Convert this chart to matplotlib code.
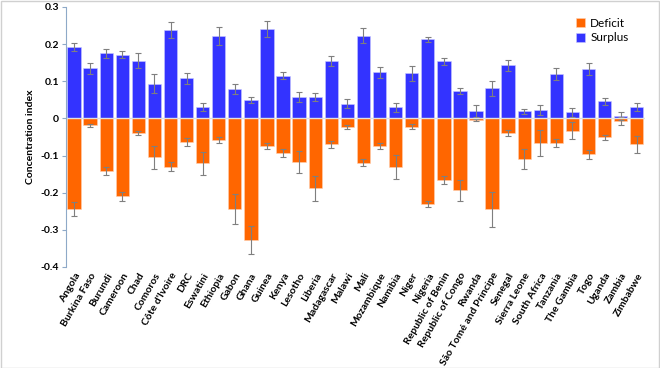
import matplotlib
matplotlib.use("Agg")
import matplotlib.pyplot as plt
import numpy as np
from matplotlib.patches import Rectangle

plt.rcParams['font.family'] = ['Lato', 'DejaVu Sans']

countries = ["Angola", "Burkina Faso", "Burundi", "Cameroon", "Chad", "Comoros",
             "Côte d'Ivoire", "DRC", "Eswatini", "Ethiopia", "Gabon", "Ghana",
             "Guinea", "Kenya", "Lesotho", "Liberia", "Madagascar", "Malawi",
             "Mali", "Mozambique", "Namibia", "Niger", "Nigeria", "Republic of Benin",
             "Republic of Congo", "Rwanda", "São Tomé and Principe", "Senegal",
             "Sierra Leone", "South Africa", "Tanzania", "The Gambia", "Togo",
             "Uganda", "Zambia", "Zimbabwe"]

surplus = [0.193, 0.135, 0.175, 0.172, 0.155, 0.094, 0.238, 0.108, 0.030, 0.222,
           0.079, 0.049, 0.241, 0.115, 0.058, 0.058, 0.154, 0.040, 0.223, 0.124,
           0.030, 0.121, 0.213, 0.154, 0.075, 0.019, 0.081, 0.143, 0.019, 0.022,
           0.120, 0.016, 0.134, 0.046, 0.006, 0.031]
surplus_err = [0.011, 0.015, 0.011, 0.010, 0.020, 0.026, 0.022, 0.015, 0.011, 0.025,
               0.013, 0.008, 0.021, 0.009, 0.014, 0.011, 0.014, 0.012, 0.020, 0.015,
               0.012, 0.019, 0.007, 0.009, 0.008, 0.016, 0.020, 0.014, 0.006, 0.014,
               0.016, 0.012, 0.016, 0.010, 0.010, 0.011]

deficit = [-0.243, -0.018, -0.141, -0.209, -0.040, -0.105, -0.130, -0.063, -0.121, -0.057,
           -0.243, -0.328, -0.073, -0.093, -0.118, -0.188, -0.070, -0.023, -0.119, -0.073,
           -0.131, -0.022, -0.231, -0.166, -0.194, -0.004, -0.245, -0.039, -0.108, -0.066,
           -0.066, -0.033, -0.097, -0.051, -0.007, -0.070]
deficit_err = [0.019, 0.004, 0.011, 0.012, 0.005, 0.030, 0.012, 0.010, 0.031, 0.008,
               0.040, 0.037, 0.008, 0.010, 0.029, 0.034, 0.010, 0.006, 0.010, 0.008,
               0.033, 0.006, 0.008, 0.011, 0.027, 0.003, 0.047, 0.007, 0.027, 0.036,
               0.011, 0.023, 0.013, 0.007, 0.010, 0.024]

yticks = [0.3, 0.2, 0.1, 0, -0.1, -0.2, -0.3, -0.4]
ytick_labels = ["0.3", "0.2", "0.1", "0", "-0.1", "-0.2", "-0.3", "-0.4"]

fig = plt.figure(figsize=(6.6, 3.68), dpi=100)
ax = fig.add_axes([0.1, 0.2745, 0.877, 0.7065])

x = np.arange(len(countries))
err_kw = dict(ecolor='#7f7f7f', elinewidth=0.8, capsize=2, capthick=0.8)
ax.bar(x, deficit, width=0.83, color='#ff6600', edgecolor='#ffd0b0', linewidth=0.4,
       yerr=deficit_err, error_kw=err_kw, label='Deficit')
ax.bar(x, surplus, width=0.83, color='#3333ff', edgecolor='#c8c8ff', linewidth=0.4,
       yerr=surplus_err, error_kw=err_kw, label='Surplus')
ax.axhline(0, color='#e0e0e0', lw=1.0)

ax.set_xlim(-0.5, len(countries) - 0.5)
ax.set_ylim(-0.4, 0.3)
ax.set_yticks(yticks)
ax.set_yticklabels(ytick_labels, fontsize=7.5, fontweight='bold')
ax.set_xticks(x)
ax.set_xticklabels(countries, rotation=60, ha='right', rotation_mode='anchor',
                   fontsize=7.5, fontweight='bold')
ax.tick_params(axis='x', length=0, pad=3)
ax.tick_params(axis='y', length=3, color='#8ea9c8', pad=2)
ax.set_ylabel('Concentration index', fontsize=7.5, fontweight='bold', labelpad=4)

for s in ['top', 'right', 'bottom']:
    ax.spines[s].set_visible(False)
ax.spines['left'].set_color('#8ea9c8')
ax.spines['left'].set_linewidth(0.8)

ax.legend(loc='upper right', bbox_to_anchor=(0.99, 1.0), frameon=False, fontsize=8.5,
          handlelength=0.8, handleheight=0.8, handletextpad=0.4, labelspacing=0.3)

fig.patches.append(Rectangle((0.001, 0.001), 0.997, 0.997, transform=fig.transFigure,
                             fill=False, edgecolor='#d0d0d0', linewidth=1.0))

fig.savefig('out.png', dpi=100)
